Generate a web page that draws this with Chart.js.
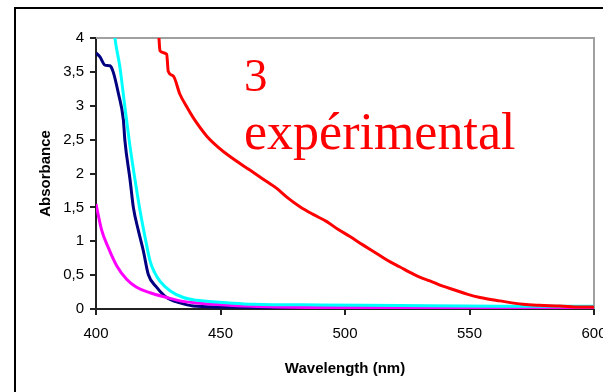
<!DOCTYPE html>
<html>
<head>
<meta charset="utf-8">
<script src="https://cdn.jsdelivr.net/npm/chart.js@4/dist/chart.umd.min.js"></script>
<style>
    body { margin: 0; background: #fff; }
    #wrap { position: relative; width: 603px; height: 392px; overflow: hidden; background: #fff; }
    #frame { position: absolute; left: 14px; top: 7px; width: 700px; height: 500px; border: 2px solid #000; box-sizing: border-box; }
    canvas { position: absolute; left: 0; top: 0; }
    .note { position: absolute; color: #ff0000; font-family: "Liberation Serif", serif; line-height: 1; white-space: nowrap; }
</style>
</head>
<body>
<div id="wrap">
    <div id="frame"></div>
    <canvas id="chart" width="620" height="392"></canvas>
    <div class="note" id="note1" style="left:244px; top:52px; font-size:47px;">3</div>
    <div class="note" id="note2" style="left:244px; top:106px; font-size:52px;">expérimental</div>
</div>
<script>
// Spectra (wavelength in nm, absorbance)
const redWavelength = [424.9, 425.3, 425.7, 428.4, 429.0, 431.0, 433.7, 436.5, 439.1, 444.5, 449.0, 453.8, 461.8, 467.0, 472.6, 477.0, 481.9, 487.0, 492.7, 497.0, 502.0, 507.0, 512.7, 517.0, 522.1, 526.1, 530.0, 534.1, 539.0, 544.9, 549.0, 554.2, 562.2, 571.5, 578.0, 586.3, 594.4, 600];
const redAbsorbance  = [4.3, 4.0, 3.81, 3.76, 3.51, 3.44, 3.17, 2.98, 2.82, 2.55, 2.39, 2.25, 2.05, 1.92, 1.78, 1.64, 1.51, 1.40, 1.29, 1.18, 1.07, 0.95, 0.82, 0.72, 0.62, 0.54, 0.47, 0.415, 0.34, 0.27, 0.22, 0.17, 0.12, 0.07, 0.055, 0.045, 0.03, 0.03];

const cyanWavelength = [406.8, 407.6, 409.6, 411.6, 413.7, 415.7, 417.7, 419.7, 421.7, 423.5, 425.7, 429.7, 435.1, 440.4, 443.0, 463.1, 490, 522, 562, 600];
const cyanAbsorbance  = [4.3, 4.0, 3.57, 2.98, 2.39, 1.90, 1.45, 1.06, 0.71, 0.54, 0.41, 0.27, 0.17, 0.13, 0.12, 0.07, 0.06, 0.05, 0.04, 0.04];

const navyWavelength = [400, 401.6, 403.6, 405.6, 406.9, 409.0, 411.0, 411.6, 413.7, 415.0, 417.0, 419.0, 421.0, 424.4, 428.4, 433.7, 439.1, 450, 470, 500, 600];
const navyAbsorbance  = [3.78, 3.72, 3.60, 3.59, 3.50, 3.18, 2.79, 2.49, 1.90, 1.50, 1.16, 0.86, 0.51, 0.32, 0.17, 0.09, 0.044, 0.03, 0.02, 0.015, 0.01];

const magentaWavelength = [400, 402.3, 404.9, 408.3, 412.3, 416.3, 421.7, 428.4, 433.7, 440.4, 463, 490, 522, 600];
const magentaAbsorbance  = [1.55, 1.16, 0.91, 0.64, 0.44, 0.32, 0.24, 0.17, 0.12, 0.09, 0.04, 0.02, 0.015, 0.01];

const xTicks = [400, 450, 500, 550, 600];
const yTicks = [0, 0.5, 1, 1.5, 2, 2.5, 3, 3.5, 4];

function toPoints(xs, ys) {
    return xs.map((x, i) => ({ x: x, y: ys[i] }));
}

function series(xs, ys, color) {
    return {
        data: toPoints(xs, ys),
        borderColor: color,
        borderWidth: 3,
        pointRadius: 0,
        cubicInterpolationMode: 'monotone',
        fill: false
    };
}

// gray top and right edge of the plot area
const plotFrame = {
    id: 'plotFrame',
    beforeDatasetsDraw(chart) {
        const a = chart.chartArea;
        const ctx = chart.ctx;
        ctx.save();
        ctx.strokeStyle = '#a0a0a0';
        ctx.lineWidth = 2;
        ctx.beginPath();
        ctx.moveTo(a.left, a.top);
        ctx.lineTo(a.right, a.top);
        ctx.lineTo(a.right, a.bottom);
        ctx.stroke();
        ctx.restore();
    }
};

new Chart(document.getElementById('chart'), {
    type: 'line',
    data: {
        datasets: [
            series(redWavelength, redAbsorbance, '#ff0000'),
            series(cyanWavelength, cyanAbsorbance, '#00ffff'),
            series(magentaWavelength, magentaAbsorbance, '#ff00ff'),
            series(navyWavelength, navyAbsorbance, '#000080')
        ]
    },
    options: {
        responsive: false,
        animation: false,
        devicePixelRatio: 1,
        layout: { padding: { left: 0, top: 38, right: 26, bottom: 0 } },
        plugins: {
            legend: { display: false },
            tooltip: { enabled: false }
        },
        scales: {
            x: {
                type: 'linear',
                min: 400,
                max: 600,
                afterFit: (s) => { s.height = 83; },
                afterBuildTicks: (s) => { s.ticks = xTicks.map(v => ({ value: v })); },
                border: { color: '#222', width: 2 },
                grid: { drawOnChartArea: false, color: '#222', lineWidth: 2, tickLength: 6 },
                ticks: { color: '#000', font: { family: 'Liberation Sans', size: 15 }, padding: 10, maxRotation: 0 },
                title: {
                    display: true,
                    text: 'Wavelength (nm)',
                    color: '#000',
                    font: { family: 'Liberation Sans', size: 15, weight: 'bold' },
                    padding: { top: 0, bottom: 14 }
                }
            },
            y: {
                min: 0,
                max: 4,
                afterFit: (s) => { s.width = 96; },
                afterBuildTicks: (s) => { s.ticks = yTicks.map(v => ({ value: v })); },
                border: { color: '#222', width: 2 },
                grid: { drawOnChartArea: false, color: '#222', lineWidth: 2, tickLength: 6 },
                ticks: {
                    color: '#000',
                    font: { family: 'Liberation Sans', size: 15 },
                    padding: 6,
                    callback: (v) => String(v).replace('.', ',')
                },
                title: {
                    display: true,
                    text: 'Absorbance',
                    color: '#000',
                    font: { family: 'Liberation Sans', size: 15, weight: 'bold' },
                    padding: { top: 37, bottom: 0 }
                }
            }
        }
    },
    plugins: [plotFrame]
});
</script>
</body>
</html>
